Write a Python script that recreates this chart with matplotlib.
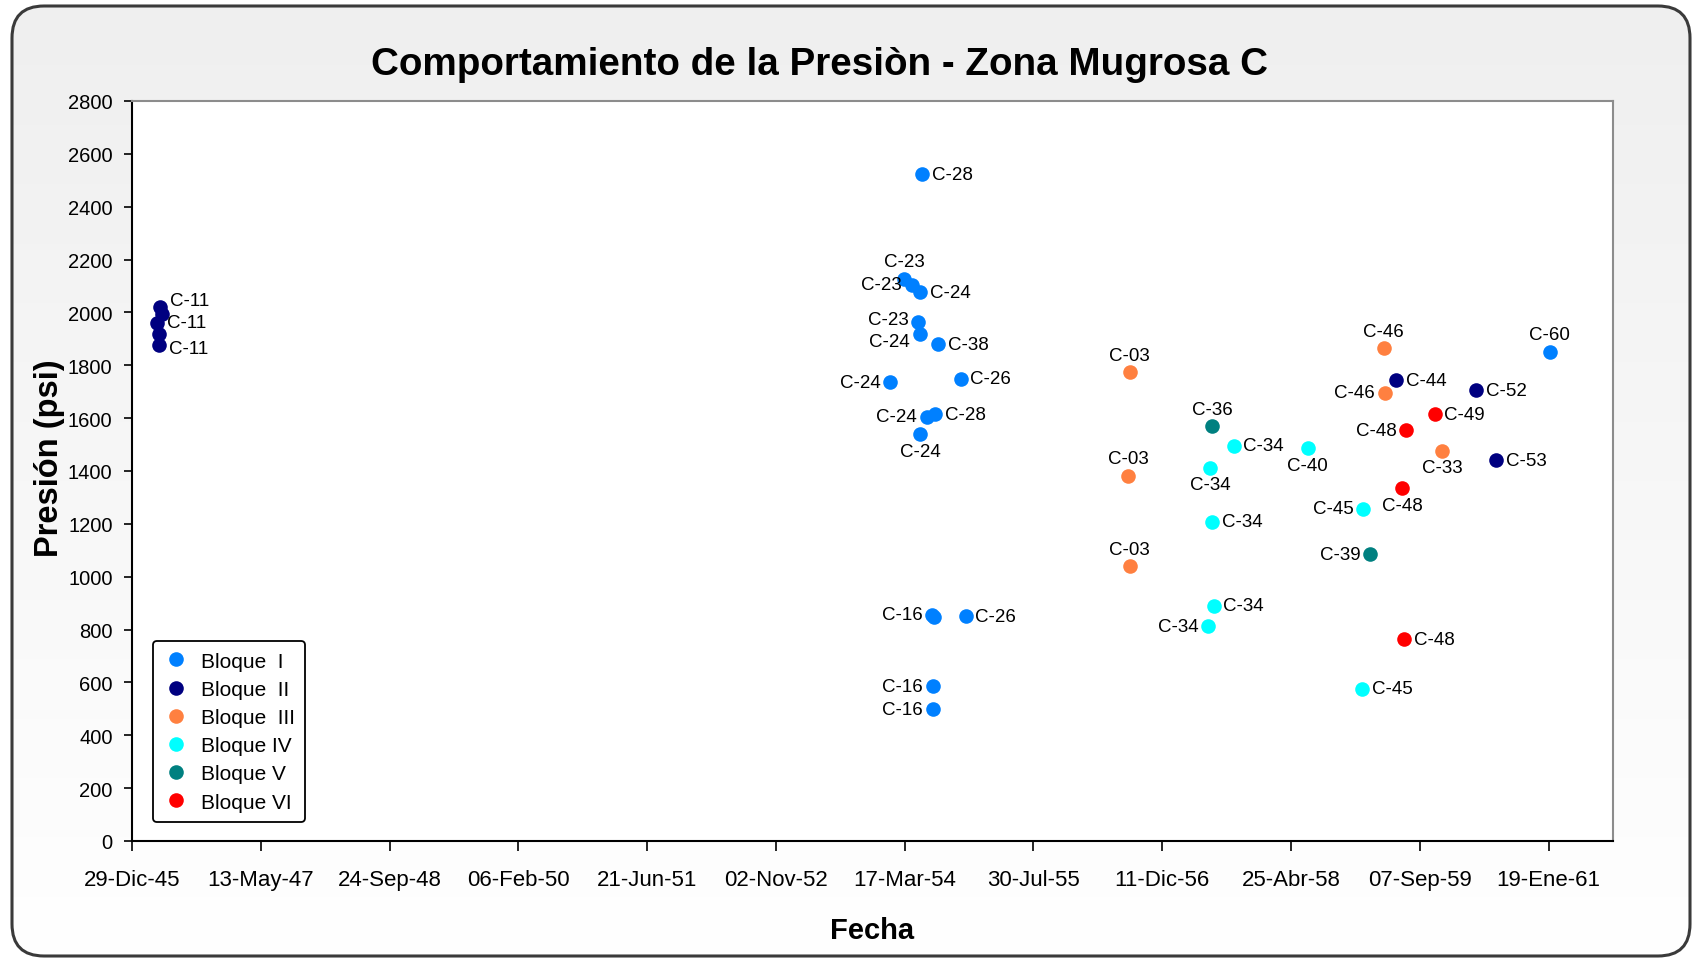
import numpy as np
import matplotlib
matplotlib.use('Agg')
import matplotlib.pyplot as plt
from matplotlib.patches import FancyBboxPatch

plt.rcParams['font.family'] = ['Liberation Sans', 'DejaVu Sans']

# ---- datos ----
bloques = ['Bloque  I', 'Bloque  II', 'Bloque  III', 'Bloque IV', 'Bloque V', 'Bloque VI']
colores = ['#0080FF', '#000080', '#FF8040', '#00FFFF', '#008080', '#FF0000']

fechas_b1 = ['1954-05-25', '1954-03-14', '1954-04-13', '1954-05-15', '1954-05-08',
             '1954-05-15', '1954-07-25', '1954-01-19', '1954-10-20', '1954-06-10',
             '1954-07-12', '1954-05-15', '1954-07-01', '1954-07-10', '1954-11-09',
             '1954-07-03', '1954-07-03', '1961-01-24']
presion_b1 = [2523, 2128, 2104, 2076, 1962, 1918, 1880, 1735, 1750, 1606,
              1615, 1539, 856, 846, 850, 585, 499, 1851]
pozos_b1 = ['C-28', 'C-23', 'C-23', 'C-24', 'C-23', 'C-24', 'C-38', 'C-24', 'C-26', 'C-24',
            'C-28', 'C-24', 'C-16', '', 'C-26', 'C-16', 'C-16', 'C-60']

fechas_b2 = ['1946-04-16', '1946-04-25', '1946-04-05', '1946-04-11', '1946-04-13',
             '1959-06-07', '1960-04-12', '1960-06-29']
presion_b2 = [2020, 1995, 1960, 1920, 1878, 1744, 1706, 1441]
pozos_b2 = ['C-11', '', 'C-11', '', 'C-11', 'C-44', 'C-52', 'C-53']

fechas_b3 = ['1956-08-07', '1956-07-31', '1956-08-07', '1959-04-20', '1959-04-23', '1959-12-02']
presion_b3 = [1773, 1382, 1039, 1864, 1697, 1476]
pozos_b3 = ['C-03', 'C-03', 'C-03', 'C-46', 'C-46', 'C-33']

fechas_b4 = ['1957-09-14', '1957-06-16', '1957-06-23', '1957-06-29', '1957-06-06',
             '1958-06-29', '1959-01-31', '1959-01-26']
presion_b4 = [1495, 1411, 1208, 890, 812, 1486, 1258, 577]
pozos_b4 = ['C-34', 'C-34', 'C-34', 'C-34', 'C-34', 'C-40', 'C-45', 'C-45']

fechas_b5 = ['1957-06-23', '1959-02-26']
presion_b5 = [1569, 1085]
pozos_b5 = ['C-36', 'C-39']

fechas_b6 = ['1959-07-16', '1959-06-30', '1959-07-07', '1959-11-03']
presion_b6 = [1555, 1335, 764, 1615]
pozos_b6 = ['C-48', 'C-48', 'C-48', 'C-49']

etiquetas_x = ['29-Dic-45', '13-May-47', '24-Sep-48', '06-Feb-50', '21-Jun-51', '02-Nov-52',
               '17-Mar-54', '30-Jul-55', '11-Dic-56', '25-Abr-58', '07-Sep-59', '19-Ene-61']

# posicion de cada etiqueta (r=derecha, l=izquierda, a=arriba, b=abajo)
pos_etq = [
    ['r', 'a', 'l', 'r', 'la', 'lb', 'r', 'l', 'r', 'l', 'r', 'b', 'l', 'r', 'r', 'l', 'l', 'a'],
    ['ra', 'r', 'r', 'r', 'rb', 'r', 'r', 'r'],
    ['a', 'a', 'a', 'a', 'l', 'b'],
    ['r', 'b', 'r', 'r', 'l', 'b', 'l', 'r'],
    ['a', 'l'],
    ['l', 'b', 'r', 'r'],
]

series = [(fechas_b1, presion_b1, pozos_b1), (fechas_b2, presion_b2, pozos_b2),
          (fechas_b3, presion_b3, pozos_b3), (fechas_b4, presion_b4, pozos_b4),
          (fechas_b5, presion_b5, pozos_b5), (fechas_b6, presion_b6, pozos_b6)]

W, H = 1699, 962
fig = plt.figure(figsize=(W / 100, H / 100), dpi=100)
fig.patch.set_facecolor('white')

# fondo con degradado y borde redondeado
bg = fig.add_axes([0, 0, 1, 1], zorder=-5)
bg.set_xlim(0, W)
bg.set_ylim(0, H)
bg.axis('off')
grad = np.linspace(0, 1, 256).reshape(-1, 1)
cmap = matplotlib.colors.LinearSegmentedColormap.from_list('g', ['#FFFFFF', '#EFEFEF'])
im = bg.imshow(grad, extent=[12, 1690, 5, 955], origin='lower', cmap=cmap, aspect='auto')
caja = FancyBboxPatch((12, 5), 1678, 950, boxstyle='round,pad=0,rounding_size=32',
                      facecolor='none', edgecolor='#3A3A3A', linewidth=2.2)
bg.add_patch(caja)
im.set_clip_path(caja)

ax = fig.add_axes([132 / W, (H - 842) / H, (1613 - 132) / W, (842 - 102) / H])
ax.set_facecolor('white')

despl = {'r': ((7, 0), 'left', 'center'), 'l': ((-7, 0), 'right', 'center'),
         'a': ((0, 6), 'center', 'bottom'), 'b': ((0, -6), 'center', 'top'),
         'ra': ((7, 5), 'left', 'center'), 'rb': ((7, -3), 'left', 'center'),
         'la': ((-7, 2), 'right', 'center'), 'lb': ((-7, -5), 'right', 'center')}

for i, (fechas, pres, pozos) in enumerate(series):
    x = np.array(fechas, dtype='datetime64[D]')
    ax.plot(x, pres, 'o', color=colores[i], markersize=10.5, markeredgewidth=0,
            label=bloques[i], zorder=3)
    for xi, yi, nom, p in zip(x, pres, pozos, pos_etq[i]):
        if nom:
            off, ha, va = despl[p]
            ax.annotate(nom, (xi, yi), xytext=off, textcoords='offset points',
                        ha=ha, va=va, fontsize=13.5, zorder=4)

inicio = np.datetime64('1945-12-29')
ticks = inicio + np.arange(len(etiquetas_x)) * np.timedelta64(500, 'D')
ax.set_xticks(ticks)
ax.set_xticklabels(etiquetas_x, fontsize=16)
ax.set_xlim(inicio, inicio + np.timedelta64(5750, 'D'))
ax.set_ylim(0, 2800)
ax.set_yticks(np.arange(0, 2801, 200))
ax.tick_params(axis='y', labelsize=14.5, length=6, width=1.2, pad=8)
ax.tick_params(axis='x', length=7, width=1.2, pad=13)

for s in ['top', 'right']:
    ax.spines[s].set_color('#8C8C8C')
    ax.spines[s].set_linewidth(1.5)
for s in ['left', 'bottom']:
    ax.spines[s].set_color('black')
    ax.spines[s].set_linewidth(1.5)

ax.set_xlabel('Fecha', fontsize=21, fontweight='bold', labelpad=19)
ax.set_ylabel('Presión (psi)', fontsize=23.5, fontweight='bold')
ax.yaxis.set_label_coords(-0.045, 0.519)
fig.text(0.4826, 0.932, 'Comportamiento de la Presiòn - Zona Mugrosa C',
         ha='center', va='center', fontsize=27.8, fontweight='bold')

leg = ax.legend(loc='lower left', bbox_to_anchor=(0.0142, 0.0257), borderaxespad=0,
                fontsize=15, fancybox=True, framealpha=1, edgecolor='black',
                handletextpad=0.6, labelspacing=0.44, borderpad=0.5, handlelength=1.2)
leg.get_frame().set_linewidth(1.3)

fig.savefig('out.png', dpi=100)
